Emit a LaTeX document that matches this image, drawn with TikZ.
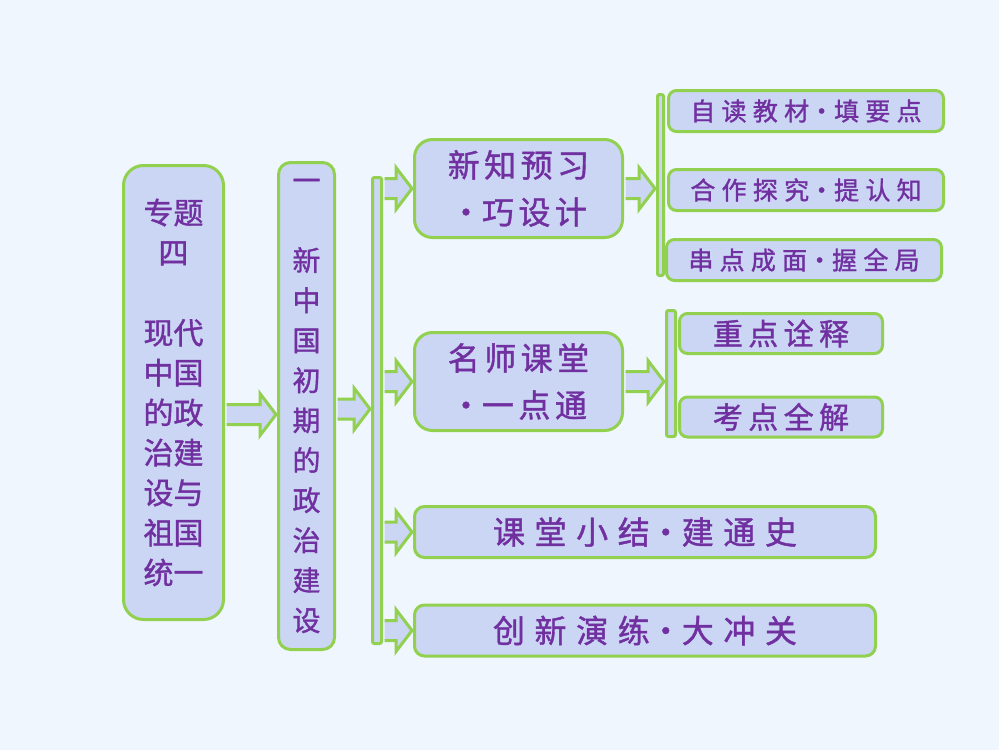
\documentclass[tikz,border=0pt]{standalone}
\usepackage{fontspec}
\newfontfamily\cjk[FakeBold=1.2]{Noto Sans CJK SC}
\usetikzlibrary{calc}
\definecolor{bgblue}{RGB}{239,246,253}
\definecolor{boxfill}{RGB}{203,213,244}
\definecolor{edgegreen}{RGB}{146,208,80}
\definecolor{textpurple}{RGB}{112,48,160}
\newcommand{\md}{\makebox[1em]{·}}
\def\blockarrow(#1)(#2){\filldraw[arrowbody] let \p1=(#1), \p2=(#2) in ({\x1+1.5pt},{\y1+10pt}) -- ({\x2-17pt},{\y1+10pt}) -- ({\x2-17pt},{\y1+21pt}) -- ({\x2-1pt},{\y1}) -- ({\x2-17pt},{\y1-21pt}) -- ({\x2-17pt},{\y1-10pt}) -- ({\x1+1.5pt},{\y1-10pt});}
\tikzset{
	box/.style={draw=edgegreen, line width=3pt, fill=boxfill, text=textpurple, inner sep=0pt, align=center},
	bar/.style={draw=edgegreen, line width=3pt, fill=boxfill, rounded corners=2pt, inner sep=0pt},
	arrowbody/.style={draw=edgegreen, line width=3pt, fill=boxfill, line join=miter}
}

\begin{document}
\begin{tikzpicture}[x=1pt, y=-1pt]
		%%%%% START %%%%%
		
		\fill[bgblue] (0, 0) rectangle (999, 750);
		\useasboundingbox (0, 0) rectangle (999, 750);
		
		\node[box, rounded corners=20pt, minimum width=100pt, minimum height=454pt, font=\cjk\fontsize{30}{40}\selectfont] (topic) at (173.5, 392.5) {专题\\四\\[40pt]现代\\中国\\的政\\治建\\设与\\祖国\\统一};
		\node[box, rounded corners=12pt, minimum width=56pt, minimum height=487pt, font=\cjk\fontsize{28}{40}\selectfont] (lesson) at (306.5, 406) {一\\[40pt]新\\中\\国\\初\\期\\的\\政\\治\\建\\设};
		\node[bar, minimum width=9pt, minimum height=466pt] (bigbar) at (377, 410.5) {};
		
		\node[box, rounded corners=18pt, minimum width=208pt, minimum height=98pt, font=\cjk\fontsize{32}{47}\selectfont\addfontfeature{LetterSpace=14}] (xinzhi) at (518.5, 188.5) {新知预习\\\md 巧设计};
		\node[box, rounded corners=18pt, minimum width=208pt, minimum height=98pt, font=\cjk\fontsize{32}{47}\selectfont\addfontfeature{LetterSpace=14}] (mingshi) at (518.5, 381.5) {名师课堂\\\md 一点通};
		\node[box, rounded corners=10pt, minimum width=461pt, minimum height=51pt, font=\cjk\fontsize{32}{40}\selectfont\addfontfeature{LetterSpace=30}] (xiaojie) at (645, 532) {课堂小结\md 建通史};
		\node[box, rounded corners=10pt, minimum width=461pt, minimum height=51pt, font=\cjk\fontsize{32}{40}\selectfont\addfontfeature{LetterSpace=30}] (yanlian) at (645, 630.5) {创新演练\md 大冲关};
		
		\node[bar, minimum width=6pt, minimum height=181pt] (bara) at (660.5, 185) {};
		\node[box, rounded corners=8pt, minimum width=275pt, minimum height=41pt, font=\cjk\fontsize{25}{30}\selectfont\addfontfeature{LetterSpace=25}] (zidu) at (806, 111) {自读教材\md 填要点};
		\node[box, rounded corners=8pt, minimum width=275pt, minimum height=41pt, font=\cjk\fontsize{25}{30}\selectfont\addfontfeature{LetterSpace=25}] (hezuo) at (806, 190) {合作探究\md 提认知};
		\node[box, rounded corners=8pt, minimum width=275pt, minimum height=41pt, font=\cjk\fontsize{25}{30}\selectfont\addfontfeature{LetterSpace=25}] (chuandian) at (804, 260) {串点成面\md 握全局};
		
		\node[bar, minimum width=9pt, minimum height=126pt] (barb) at (671, 373.5) {};
		\node[box, rounded corners=8pt, minimum width=203pt, minimum height=40pt, font=\cjk\fontsize{30}{36}\selectfont\addfontfeature{LetterSpace=18}] (zhongdian) at (781, 333.5) {重点诠释};
		\node[box, rounded corners=8pt, minimum width=203pt, minimum height=40pt, font=\cjk\fontsize{30}{36}\selectfont\addfontfeature{LetterSpace=18}] (kaodian) at (781, 417) {考点全解};
		
		\blockarrow([yshift=-22pt]topic.east)(lesson.west)
		\blockarrow([yshift=-3pt]lesson.east)(bigbar.west)
		
		\blockarrow(bigbar.east |- xinzhi.west)(xinzhi.west)
		\blockarrow(bigbar.east |- mingshi.west)(mingshi.west)
		\blockarrow(bigbar.east |- xiaojie.west)(xiaojie.west)
		\blockarrow(bigbar.east |- yanlian.west)(yanlian.west)
		
		\blockarrow(xinzhi.east)(bara.west)
		\blockarrow(mingshi.east)(barb.west)
		
		%%%%% END %%%%%
\end{tikzpicture}
\end{document}
